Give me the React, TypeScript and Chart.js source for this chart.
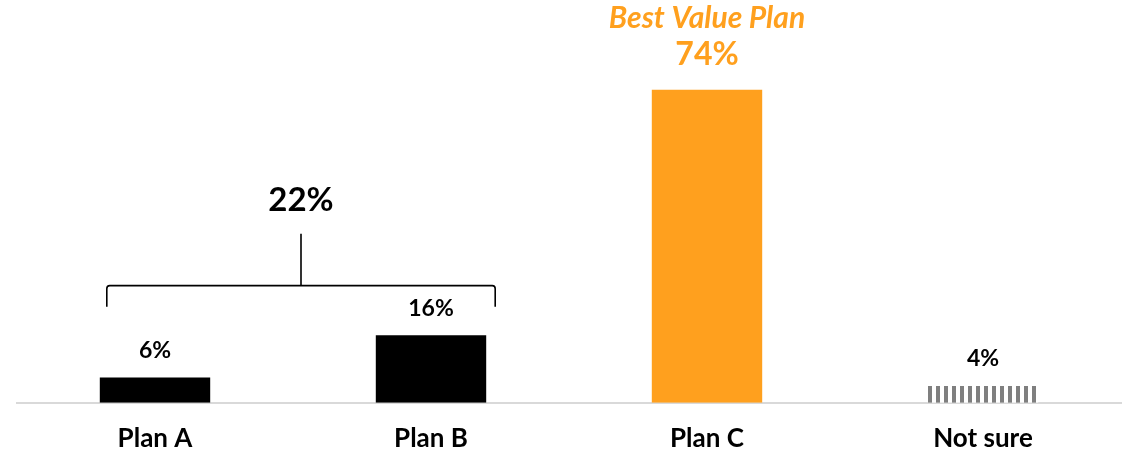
import React, { useEffect, useRef } from "react";
import { Chart, registerables } from "chart.js";

Chart.register(...registerables);

const categories = ["Plan A", "Plan B", "Plan C", "Not sure"];
const values = [6, 16, 74, 4];
const valueLabels = ["6%", "16%", "74%", "4%"];
const groupLabel = "22%";
const highlightLabel = "Best Value Plan";
const highlightIndex = 2;
const patternIndex = 3;
const groupIndices = [0, 1];

const ORANGE = "#FFA01E";
const FONT = "Lato, 'Open Sans', sans-serif";

function makeStripePattern(): CanvasPattern | string {
  const c = document.createElement("canvas");
  c.width = 8;
  c.height = 8;
  const ctx = c.getContext("2d");
  if (!ctx) return "#808080";
  ctx.fillStyle = "#ffffff";
  ctx.fillRect(0, 0, 8, 8);
  ctx.fillStyle = "#7f7f7f";
  ctx.fillRect(0, 0, 4, 8);
  return ctx.createPattern(c, "repeat") || "#808080";
}

const annotatePlugin = {
  id: "annotate",
  afterDatasetsDraw(chart: any) {
    const ctx = chart.ctx;
    const meta = chart.getDatasetMeta(0);
    ctx.save();
    ctx.textAlign = "center";
    ctx.textBaseline = "middle";
    meta.data.forEach((bar: any, i: number) => {
      if (i === highlightIndex) {
        ctx.fillStyle = ORANGE;
        ctx.font = `bold 32px ${FONT}`;
        ctx.fillText(valueLabels[i], bar.x, bar.y - 35);
        ctx.font = `italic bold 30px ${FONT}`;
        ctx.fillText(highlightLabel, bar.x, bar.y - 71);
      } else {
        ctx.fillStyle = "#000000";
        ctx.font = `bold 23px ${FONT}`;
        ctx.fillText(valueLabels[i], bar.x, bar.y - 27);
      }
    });
    // bracket
    const a = meta.data[groupIndices[0]];
    const b = meta.data[groupIndices[1]];
    const left = a.x - a.width / 2 + 7;
    const right = b.x + b.width / 2 + 9;
    const yh = b.y - 49.5;
    const yEnd = b.y - 28.5;
    const mid = (left + right) / 2;
    const r = 3;
    ctx.strokeStyle = "#000000";
    ctx.lineWidth = 1.6;
    ctx.beginPath();
    ctx.moveTo(left, yEnd);
    ctx.lineTo(left, yh + r);
    ctx.quadraticCurveTo(left, yh, left + r, yh);
    ctx.lineTo(right - r, yh);
    ctx.quadraticCurveTo(right, yh, right, yh + r);
    ctx.lineTo(right, yEnd);
    ctx.moveTo(mid, yh);
    ctx.lineTo(mid, yh - 52);
    ctx.stroke();
    ctx.fillStyle = "#000000";
    ctx.font = `bold 33px ${FONT}`;
    ctx.fillText(groupLabel, mid, yh - 85);
    ctx.restore();
  },
};

export default function App() {
  const ref = useRef<HTMLCanvasElement | null>(null);
  useEffect(() => {
    if (!ref.current) return;
    const pattern = makeStripePattern();
    const colors = categories.map((_, i) =>
      i === highlightIndex ? ORANGE : i === patternIndex ? pattern : "#000000"
    );
    const chart = new Chart(ref.current, {
      type: "bar",
      data: {
        labels: categories,
        datasets: [
          {
            data: values,
            backgroundColor: colors as any,
            borderWidth: 0,
            barPercentage: 0.4,
            categoryPercentage: 1.0,
          },
        ],
      },
      options: {
        animation: false,
        responsive: true,
        maintainAspectRatio: false,
        layout: { padding: { left: 17, right: 16, top: 1, bottom: -23 } },
        plugins: { legend: { display: false }, tooltip: { enabled: false } },
        scales: {
          x: {
            grid: { display: false, drawTicks: false },
            border: { display: true, color: "#d9d9d9", width: 2 },
            ticks: {
              color: "#000000",
              padding: 20,
              font: { family: FONT, size: 26, weight: "bold", lineHeight: 1.2 },
            },
          },
          y: { display: false, min: 0, max: 95 },
        },
      },
      plugins: [annotatePlugin],
    });
    return () => chart.destroy();
  }, []);
  return (
    <div style={{ position: "fixed", left: 0, top: 0, width: 1137, height: 451, background: "#fff" }}>
      <canvas ref={ref} />
    </div>
  );
}
